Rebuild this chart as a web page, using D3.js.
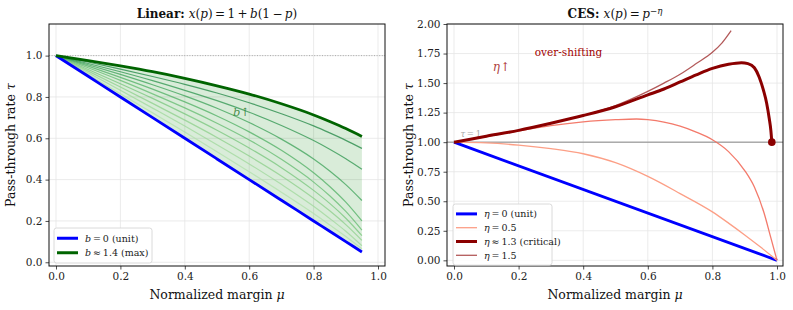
<!DOCTYPE html>
<html>
<head>
<meta charset="utf-8">
<script src="https://cdn.jsdelivr.net/npm/d3@7"></script>
<style>
  body { margin: 0; background: #fff; }
  svg, svg text { font-family: "DejaVu Serif", "Liberation Serif", serif; }
</style>
</head>
<body>
<svg id="chart" width="793" height="310"></svg>
<script>
// ---- data ----
// left panel: linear demand, tau sampled on a fixed mu grid
const linMu = [0, 0.1, 0.2, 0.3, 0.4, 0.5, 0.6, 0.7, 0.8, 0.85, 0.9, 0.95]
const linUnit = [1, 0.9, 0.8, 0.7, 0.6, 0.5, 0.4, 0.3, 0.2, 0.15, 0.1, 0.05]
const linMax = [1, 0.976, 0.950, 0.922, 0.890, 0.854, 0.814, 0.767, 0.713, 0.681, 0.647, 0.609]
const linMid = [
  [1, 0.908, 0.816, 0.723, 0.630, 0.535, 0.438, 0.339, 0.236, 0.181, 0.125, 0.065],
  [1, 0.917, 0.832, 0.746, 0.659, 0.569, 0.476, 0.377, 0.271, 0.212, 0.150, 0.080],
  [1, 0.925, 0.848, 0.769, 0.688, 0.604, 0.514, 0.418, 0.310, 0.249, 0.182, 0.106],
  [1, 0.933, 0.864, 0.793, 0.718, 0.639, 0.553, 0.458, 0.348, 0.285, 0.213, 0.129],
  [1, 0.941, 0.880, 0.815, 0.747, 0.673, 0.592, 0.498, 0.388, 0.322, 0.246, 0.156],
  [1, 0.949, 0.895, 0.838, 0.776, 0.708, 0.631, 0.542, 0.433, 0.367, 0.291, 0.200],
  [1, 0.956, 0.909, 0.859, 0.805, 0.745, 0.676, 0.596, 0.500, 0.442, 0.376, 0.299],
  [1, 0.962, 0.922, 0.879, 0.832, 0.782, 0.726, 0.662, 0.589, 0.547, 0.501, 0.450],
  [1, 0.969, 0.935, 0.899, 0.861, 0.819, 0.772, 0.719, 0.660, 0.626, 0.590, 0.551]
]

// right panel: CES curves as [mu, tau] pairs
const cesUnit = [[0, 1], [1, 0]]
const cesHalf = [[0, 1], [0.1, 0.994], [0.2, 0.975], [0.3, 0.945], [0.4, 0.902], [0.5, 0.826],
  [0.6, 0.71], [0.7, 0.565], [0.8, 0.41], [0.85, 0.315], [0.9, 0.215], [0.95, 0.11], [1, 0]]
const cesMid = [[0, 1], [0.1, 1.048], [0.2, 1.095], [0.3, 1.14], [0.4, 1.172], [0.5, 1.19],
  [0.565, 1.196], [0.6, 1.19], [0.65, 1.17], [0.7, 1.135], [0.75, 1.085], [0.8, 1.02],
  [0.85, 0.92], [0.9, 0.76], [0.93, 0.62], [0.96, 0.40], [0.98, 0.2], [1, 0]]
const cesCrit = [[0, 1], [0.1, 1.05], [0.2, 1.1], [0.3, 1.16], [0.4, 1.225], [0.5, 1.3],
  [0.6, 1.40], [0.65, 1.45], [0.7, 1.51], [0.75, 1.57], [0.8, 1.625], [0.85, 1.66],
  [0.89, 1.673], [0.91, 1.665], [0.93, 1.63], [0.945, 1.55], [0.958, 1.44], [0.968, 1.33],
  [0.976, 1.2], [0.981, 1.1], [0.984, 1.0]]
const cesHigh = [[0, 1], [0.1, 1.05], [0.2, 1.1], [0.3, 1.16], [0.4, 1.226], [0.5, 1.31],
  [0.6, 1.43], [0.65, 1.5], [0.7, 1.575], [0.75, 1.665], [0.8, 1.76], [0.83, 1.84], [0.858, 1.943]]
const critPoint = [0.984, 1.0]

const xTicks = [0, 0.2, 0.4, 0.6, 0.8, 1.0]
const yTicksLeft = [0, 0.2, 0.4, 0.6, 0.8, 1.0]
const yTicksRight = [0, 0.25, 0.5, 0.75, 1, 1.25, 1.5, 1.75, 2]

const TS = "\u2009" // thin space, mathtext-like spacing
const legendLeft = [
  { seg: [["b", "i"], [`${TS}=${TS}0 (unit)`, "n"]], color: "#0000ff", width: 3 },
  { seg: [["b", "i"], [`${TS}≈${TS}1.4 (max)`, "n"]], color: "#006400", width: 3 }
]
const legendRight = [
  { seg: [["η", "i"], [`${TS}=${TS}0 (unit)`, "n"]], color: "#0000ff", width: 3, op: 1 },
  { seg: [["η", "i"], [`${TS}=${TS}0.5`, "n"]], color: "#fc9f86", width: 1.3, op: 1 },
  { seg: [["η", "i"], [`${TS}≈${TS}1.3 (critical)`, "n"]], color: "#8b0000", width: 3, op: 1 },
  { seg: [["η", "i"], [`${TS}=${TS}1.5`, "n"]], color: "#8b0000", width: 1.3, op: 0.65 }
]

const svg = d3.select("#chart")

// write text built from [text, style] pieces: i = italic, b = bold, n = normal
const addSegs = (sel, segs) => {
  segs.forEach(([t, s]) => {
    const ts = sel.append("tspan").text(t)
    if (s == "i") ts.attr("font-style", "italic")
    if (s == "b") ts.attr("font-weight", "bold")
    if (s == "sup") ts.attr("font-style", "italic").attr("font-size", "0.72em").attr("dy", "-0.45em")
  })
  return sel
}

const drawFrame = (g, x, y, yTicks, fmt, box) => {
  g.append("g").selectAll("line").data(xTicks).join("line")
    .attr("x1", d => x(d)).attr("x2", d => x(d))
    .attr("y1", box.top).attr("y2", box.bottom)
    .attr("stroke", "#e6e6e6").attr("stroke-width", 0.8)
  g.append("g").selectAll("line").data(yTicks).join("line")
    .attr("x1", box.left).attr("x2", box.right)
    .attr("y1", d => y(d)).attr("y2", d => y(d))
    .attr("stroke", "#e6e6e6").attr("stroke-width", 0.8)

  const xAxis = g.append("g").attr("transform", `translate(0,${box.bottom})`)
    .call(d3.axisBottom(x).tickValues(xTicks).tickFormat(d3.format(".1f")).tickSizeOuter(0).tickSize(3.5).tickPadding(3))
  const yAxis = g.append("g").attr("transform", `translate(${box.left},0)`)
    .call(d3.axisLeft(y).tickValues(yTicks).tickFormat(d3.format(fmt)).tickSizeOuter(0).tickSize(3.5).tickPadding(3))
  ;[xAxis, yAxis].forEach(a => {
    a.attr("font-family", null)
    a.select(".domain").remove()
    a.selectAll("text").attr("font-size", 10.5).attr("fill", "#222")
    a.selectAll("line").attr("stroke", "#222").attr("stroke-width", 0.8)
  })
}

const drawBorder = (g, box) => {
  g.append("rect")
    .attr("x", box.left).attr("y", box.top)
    .attr("width", box.right - box.left).attr("height", box.bottom - box.top)
    .attr("fill", "none").attr("stroke", "#111").attr("stroke-width", 1)
}

const drawLabels = (g, box, titleSegs) => {
  const cx = (box.left + box.right) / 2
  addSegs(g.append("text").attr("x", cx).attr("y", 18).attr("text-anchor", "middle")
    .attr("font-size", 12).attr("fill", "#111"), titleSegs)
  addSegs(g.append("text").attr("x", cx).attr("y", 299).attr("text-anchor", "middle")
    .attr("font-size", 12.5).attr("fill", "#111"), [["Normalized margin ", "n"], ["μ", "i"]])
  addSegs(g.append("text")
    .attr("transform", `translate(${box.left - 34},${(box.top + box.bottom) / 2}) rotate(-90)`)
    .attr("text-anchor", "middle").attr("font-size", 12.5).attr("fill", "#111"),
    [["Pass-through rate ", "n"], ["τ", "i"]])
}

const drawLegend = (g, items, x0, y0, w, rowH) => {
  const h = items.length * rowH + 6
  g.append("rect").attr("x", x0).attr("y", y0).attr("width", w).attr("height", h)
    .attr("rx", 2.5).attr("fill", "#fff").attr("fill-opacity", 0.85)
    .attr("stroke", "#d0d0d0").attr("stroke-width", 0.8)
  items.forEach((it, i) => {
    const yy = y0 + 3 + rowH * (i + 0.5)
    g.append("line").attr("x1", x0 + 3).attr("x2", x0 + 24).attr("y1", yy).attr("y2", yy)
      .attr("stroke", it.color).attr("stroke-width", it.width).attr("stroke-opacity", it.op ?? 1)
    addSegs(g.append("text").attr("x", x0 + 31).attr("y", yy + 3.5)
      .attr("font-size", 9.5).attr("fill", "#222"), it.seg)
  })
}

// ---- left panel ----
const boxL = { left: 49, right: 385, top: 24, bottom: 266 }
const xL = d3.scaleLinear().domain([-0.0217, 1.0217]).range([boxL.left, boxL.right])
const yL = d3.scaleLinear().domain([-0.018, 1.153]).range([boxL.bottom, boxL.top])
const gL = svg.append("g")
drawFrame(gL, xL, yL, yTicksLeft, ".1f", boxL)

gL.append("line").attr("x1", boxL.left).attr("x2", boxL.right)
  .attr("y1", yL(1)).attr("y2", yL(1))
  .attr("stroke", "#999").attr("stroke-width", 0.8).attr("stroke-dasharray", "1,1.6")

const lineL = d3.line().x((d, i) => xL(linMu[i])).y(d => yL(d)).curve(d3.curveMonotoneX)
const areaL = d3.area().x((d, i) => xL(linMu[i]))
  .y0((d, i) => yL(linUnit[i])).y1(d => yL(d)).curve(d3.curveMonotoneX)

gL.append("path").attr("d", areaL(linMax)).attr("fill", "green").attr("fill-opacity", 0.15)
linMid.forEach((s, k) => {
  gL.append("path").attr("d", lineL(s)).attr("fill", "none")
    .attr("stroke", d3.interpolateGreens(0.32 + 0.45 * k / (linMid.length - 1)))
    .attr("stroke-opacity", 0.75).attr("stroke-width", 1.2)
})
gL.append("path").attr("d", lineL(linUnit)).attr("fill", "none").attr("stroke", "#0000ff").attr("stroke-width", 2.8)
gL.append("path").attr("d", lineL(linMax)).attr("fill", "none").attr("stroke", "#006400").attr("stroke-width", 2.8)

addSegs(gL.append("text").attr("x", xL(0.55)).attr("y", yL(0.71)).attr("font-size", 11.5)
  .attr("fill", "#2e7d32").attr("fill-opacity", 0.85), [["b", "i"], ["↑", "n"]])

drawBorder(gL, boxL)
drawLabels(gL, boxL, [["Linear: ", "b"], ["x", "i"], ["(", "n"], ["p", "i"], [`)${TS}=${TS}1${TS}+${TS}`, "n"],
  ["b", "i"], [`(1${TS}−${TS}`, "n"], ["p", "i"], [")", "n"]])
drawLegend(gL, legendLeft, 54, 228, 98, 14.5)

// ---- right panel ----
const boxR = { left: 447, right: 783, top: 24, bottom: 266 }
const xR = d3.scaleLinear().domain([-0.0217, 1.0186]).range([boxR.left, boxR.right])
const yR = d3.scaleLinear().domain([-0.048, 2.0]).range([boxR.bottom, boxR.top])
const gR = svg.append("g")
drawFrame(gR, xR, yR, yTicksRight, ".2f", boxR)

gR.append("line").attr("x1", boxR.left).attr("x2", boxR.right)
  .attr("y1", yR(1)).attr("y2", yR(1)).attr("stroke", "#888").attr("stroke-width", 1)
addSegs(gR.append("text").attr("x", xR(0.02)).attr("y", yR(1) - 5).attr("font-size", 8.5)
  .attr("fill", "#aaa"), [["τ", "i"], [`${TS}=${TS}1`, "n"]])

const lineR = d3.line().x(d => xR(d[0])).y(d => yR(d[1])).curve(d3.curveMonotoneX)
const curvesR = [
  { data: cesUnit, color: "#0000ff", width: 2.8, op: 1 },
  { data: cesHalf, color: "#fc9f86", width: 1.3, op: 1 },
  { data: cesMid, color: "#f26b5b", width: 1.3, op: 0.9 },
  { data: cesHigh, color: "#8b0000", width: 1.3, op: 0.65 },
  { data: cesCrit, color: "#8b0000", width: 3, op: 1 }
]
curvesR.forEach(c => {
  gR.append("path").attr("d", lineR(c.data)).attr("fill", "none")
    .attr("stroke", c.color).attr("stroke-width", c.width).attr("stroke-opacity", c.op)
    .attr("stroke-linejoin", "round")
})
gR.append("circle").attr("cx", xR(critPoint[0])).attr("cy", yR(critPoint[1])).attr("r", 3.8).attr("fill", "#8b0000")

addSegs(gR.append("text").attr("x", xR(0.12)).attr("y", yR(1.6)).attr("font-size", 12)
  .attr("fill", "#a52a2a").attr("fill-opacity", 0.9), [["η", "i"], ["↑", "n"]])
gR.append("text").attr("x", xR(0.25)).attr("y", yR(1.725)).attr("font-size", 10.5)
  .attr("fill", "#a00000").text("over-shifting")

drawBorder(gR, boxR)
drawLabels(gR, boxR, [["CES: ", "b"], ["x", "i"], ["(", "n"], ["p", "i"], [`)${TS}=${TS}`, "n"],
  ["p", "i"], ["−η", "sup"]])
drawLegend(gR, legendRight, 453, 204, 99, 13.8)
</script>
</body>
</html>
